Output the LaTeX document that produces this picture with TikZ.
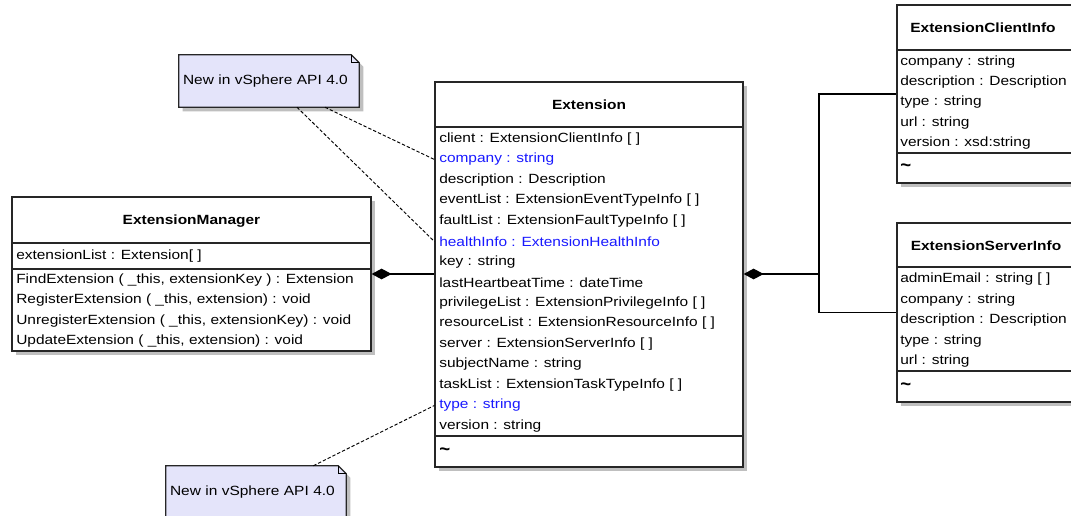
\documentclass[tikz,border=0pt]{standalone}
\usepackage{fontspec}
\setmainfont{Liberation Sans}
\newfontfamily\umlfont[FakeStretch=1.16]{Liberation Sans}
\usetikzlibrary{arrows.meta,shadows,backgrounds}
\definecolor{notefill}{RGB}{228,228,250}
\definecolor{newblue}{RGB}{25,25,255}
\tikzset{
  classbox/.style={draw=black!85, line width=0.9pt, fill=white, inner sep=0,
    drop shadow={shadow xshift=3pt, shadow yshift=-3pt, fill=black!25, opacity=1}},
  classname/.style={inner sep=0, font=\umlfont\fontsize{10}{12}\selectfont\bfseries},
  attr/.style={anchor=west, inner sep=0, font=\umlfont\fontsize{10}{12}\selectfont},
  newattr/.style={attr, text=newblue},
  nomethods/.style={anchor=west, inner sep=0, font=\fontsize{14}{14}\selectfont\bfseries},
  sepline/.style={draw=black!85, line width=0.9pt},
  notebox/.style={inner xsep=3pt, inner ysep=0, minimum height=39pt, text width=129pt,
    align=left, font=\umlfont\fontsize{10}{12}\selectfont},
  noteshape/.style={draw=black!85, line width=0.9pt, fill=notefill,
    drop shadow={shadow xshift=3pt, shadow yshift=-3pt, fill=black!25, opacity=1}},
  notelink/.style={line width=0.7pt, dash pattern=on 2.5pt off 1.5pt},
  compo/.style={line width=0.8pt, {Diamond[length=15pt,width=8pt]}-},
  assoc/.style={line width=0.8pt}
}
\begin{document}
\begin{tikzpicture}[x=0.75pt, y=-0.75pt]
	\useasboundingbox (0,0) rectangle (1071,516);
	% class boxes
	\node[classbox, minimum width=231pt, minimum height=288.75pt] (ext) at (589, 274.5) {};
	\node[classbox, minimum width=269.25pt, minimum height=115.5pt] (mgr) at (191.5, 274) {};
	\node[classbox, minimum width=133.5pt, minimum height=133.5pt] (cli) at (986, 94) {};
	\node[classbox, minimum width=133.5pt, minimum height=134.25pt] (srv) at (986, 312.5) {};
	\draw[sepline] (ext.west |- 0,127) -- (ext.east |- 0,127);
	\draw[sepline] (ext.west |- 0,436) -- (ext.east |- 0,436);
	\draw[sepline] (mgr.west |- 0,243) -- (mgr.east |- 0,243);
	\draw[sepline] (mgr.west |- 0,269) -- (mgr.east |- 0,269);
	\draw[sepline] (cli.west |- 0,50) -- (cli.east |- 0,50);
	\draw[sepline] (cli.west |- 0,153) -- (cli.east |- 0,153);
	\draw[sepline] (srv.west |- 0,267) -- (srv.east |- 0,267);
	\draw[sepline] (srv.west |- 0,371) -- (srv.east |- 0,371);
	% Extension
	\node[classname] (extName) at (589, 105) {Extension};
	\node[attr] (client) at (439, 139) {client : ExtensionClientInfo [ ]};
	\node[newattr] (company) at (439, 159.5) {company : string};
	\node[attr] (description) at (439, 180) {description : Description};
	\node[attr] (eventList) at (439, 200.5) {eventList : ExtensionEventTypeInfo [ ]};
	\node[attr] (faultList) at (439, 221) {faultList : ExtensionFaultTypeInfo [ ]};
	\node[newattr] (healthInfo) at (439, 241.5) {healthInfo : ExtensionHealthInfo};
	\node[attr] (key) at (439, 262) {key : string};
	\node[attr] (lastHeartbeat) at (439, 282.5) {lastHeartbeatTime : dateTime};
	\node[attr] (privilegeList) at (439, 303) {privilegeList : ExtensionPrivilegeInfo [ ]};
	\node[attr] (resourceList) at (439, 323.5) {resourceList : ExtensionResourceInfo [ ]};
	\node[attr] (server) at (439, 344) {server : ExtensionServerInfo [ ]};
	\node[attr] (subjectName) at (439, 364.5) {subjectName : string};
	\node[attr] (taskList) at (439, 385) {taskList : ExtensionTaskTypeInfo [ ]};
	\node[newattr] (type) at (439, 405.5) {type : string};
	\node[attr] (version) at (439, 426) {version : string};
	\node[nomethods] (extOps) at (439, 452) {\textasciitilde};
	% ExtensionManager
	\node[classname] (mgrName) at (191.5, 221) {ExtensionManager};
	\node[attr] (extensionList) at (16, 256) {extensionList : Extension[ ]};
	\node[attr] (findExt) at (16, 280) {FindExtension ( \_this, extensionKey ) : Extension};
	\node[attr] (registerExt) at (16, 300.5) {RegisterExtension ( \_this, extension) : void};
	\node[attr] (unregisterExt) at (16, 321) {UnregisterExtension ( \_this, extensionKey) : void};
	\node[attr] (updateExt) at (16, 341.5) {UpdateExtension ( \_this, extension) : void};
	% ExtensionClientInfo
	\node[classname] (cliName) at (983, 28) {ExtensionClientInfo};
	\node[attr] (cliCompany) at (900, 62) {company : string};
	\node[attr] (cliDescription) at (900, 82) {description : Description};
	\node[attr] (cliType) at (900, 102.5) {type : string};
	\node[attr] (cliUrl) at (900, 123) {url : string};
	\node[attr] (cliVersion) at (900, 143) {version : xsd:string};
	\node[nomethods] (cliOps) at (900, 168) {\textasciitilde};
	% ExtensionServerInfo
	\node[classname] (srvName) at (986, 246) {ExtensionServerInfo};
	\node[attr] (srvAdminEmail) at (900, 279.5) {adminEmail : string [ ]};
	\node[attr] (srvCompany) at (900, 300) {company : string};
	\node[attr] (srvDescription) at (900, 320.5) {description : Description};
	\node[attr] (srvType) at (900, 341) {type : string};
	\node[attr] (srvUrl) at (900, 361.5) {url : string};
	\node[nomethods] (srvOps) at (900, 387) {\textasciitilde};
	% notes
	\node[notebox] (noteTop) at (269, 81) {New in vSphere API 4.0};
	\node[notebox] (noteBottom) at (256, 492) {New in vSphere API 4.0};
	\begin{scope}[on background layer]
		\draw[noteshape] (noteTop.south west) -- (noteTop.north west) -- ([xshift=-6pt]noteTop.north east)
			-- ([yshift=-6pt]noteTop.north east) -- (noteTop.south east) -- cycle;
		\draw[noteshape] (noteBottom.south west) -- (noteBottom.north west) -- ([xshift=-6pt]noteBottom.north east)
			-- ([yshift=-6pt]noteBottom.north east) -- (noteBottom.south east) -- cycle;
	\end{scope}
	\draw[line width=0.6pt] ([xshift=-6pt]noteTop.north east) |- ([yshift=-6pt]noteTop.north east);
	\draw[line width=0.6pt] ([xshift=-6pt]noteBottom.north east) |- ([yshift=-6pt]noteBottom.north east);
	\draw[notelink] ([xshift=42pt]noteTop.south) -- (ext.west |- company);
	\draw[notelink] ([xshift=21pt]noteTop.south) -- (ext.west |- healthInfo);
	\draw[notelink] ([xshift=43pt]noteBottom.north) -- (ext.west |- type);
	% connectors
	\coordinate (jn) at (819, 274);
	\draw[compo] (mgr.east) -- (mgr.east -| ext.west);
	\draw[compo] (ext.east |- jn) -- (jn);
	\draw[assoc] (jn) |- (cli.west);
	\draw[assoc] (jn) |- (srv.west);
\end{tikzpicture}
\end{document}
